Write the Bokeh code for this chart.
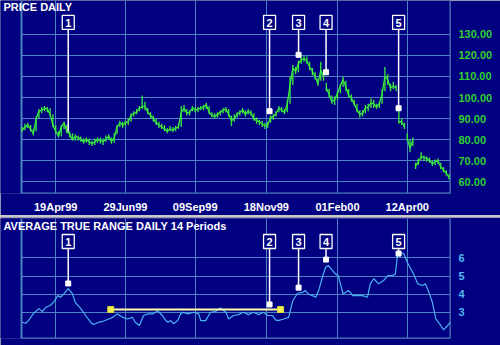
from bokeh.plotting import figure
from bokeh.models import FixedTicker, Range1d, Label, NumeralTickFormatter
from bokeh.layouts import column
from bokeh.embed import file_html
from bokeh.resources import INLINE
from bokeh.core.properties import value

# ---------------- data ----------------
price_day = list(range(0, 307, 2))
price_close = [
    84.5, 86, 87, 85, 83, 90, 93.5, 94, 95, 94.5,
    92, 87, 84, 81.6, 86, 88, 84, 82.5, 80, 81.5,
    81, 80, 79, 80, 79, 78, 79, 80, 79.5, 79,
    80.5, 81.5, 79, 81, 86, 88, 87, 88, 88.5, 91.5,
    92.5, 93, 95, 95.5, 96, 93, 91.5, 90, 88, 87,
    86, 85, 84, 85, 84.5, 85.5, 86, 93, 95, 92.5,
    93, 95, 94, 94.5, 95, 95.5, 96.5, 93, 91.5, 91,
    92, 93, 94, 94.5, 92, 89, 90, 92, 93, 94,
    92, 93.5, 92.5, 90, 89, 88.5, 87.5, 86.5, 87, 90.5,
    91, 92.5, 95, 94, 93, 97, 106, 114, 112.5, 116,
    118, 118.5, 117.5, 114.5, 112.5, 110, 106.5, 113, 110, 104.5,
    101.5, 98, 99, 102, 105.5, 108.5, 105, 101, 99.5, 97,
    94, 92, 92.5, 95, 95.5, 97.5, 97, 95.5, 97, 102,
    110, 108.5, 104.5, 105.5, 104.5, 88.5, 88.5, 86, 80.5, 76,
    79.5, 67.5, 69.5, 72, 71.5, 71, 70, 68.5, 69.5, 70,
    67, 65.5, 64, 62,
]
price_high = [
    86, 87.5, 88, 87, 85, 91, 94.5, 95.5, 96, 95.5,
    95, 92, 87, 84, 87, 88.5, 87, 84, 83, 82.5,
    82, 81.5, 80.5, 81, 80.5, 79.5, 80.5, 81, 81, 80.5,
    82, 82.5, 81, 83, 87, 89, 88.5, 89, 90, 92.5,
    93.5, 94.5, 96, 101, 98, 95, 93, 91.5, 90, 88.5,
    87.5, 87, 85.5, 86.5, 86, 86.5, 87.5, 96, 96.5, 94.5,
    94, 96, 95.5, 95.5, 96, 96.5, 97.5, 96, 93, 92.5,
    93, 94, 95, 95.5, 94.5, 91.5, 92, 93, 94, 95,
    94, 94.5, 94, 92.5, 90.5, 89.5, 89, 88, 88.5, 91.5,
    92, 93.5, 96, 95.5, 94.5, 98.5, 110, 115.5, 114.5, 117.5,
    119.5, 120, 119.5, 117, 114, 112, 109, 117, 112.5, 107,
    104, 101, 100.5, 103, 106.5, 110, 108, 104, 101.5, 99,
    97, 94, 94, 96.5, 97, 99.5, 99, 97, 98, 104,
    114.5, 111, 106.5, 107.5, 106, 95, 90, 88, 83, 80,
    81, 69, 71, 74, 72.5, 72, 71.5, 70, 70.5, 71,
    69, 67, 65.5, 63.5,
]
price_low = [
    83.5, 84.5, 85.5, 84, 82, 84, 90, 92.5, 93.5, 93,
    91, 86, 83, 81, 81.5, 85, 83, 81, 79.5, 79.5,
    79.5, 79, 78, 78.5, 77.5, 77, 77.5, 78.5, 78, 77.5,
    79, 80, 78, 78.5, 82.5, 86, 85.5, 86.5, 87, 88.5,
    91, 92, 93.5, 94.5, 94, 92, 90, 88.5, 87, 85.5,
    85, 84, 83, 84, 83.5, 84, 85, 86, 93, 91.5,
    91.5, 93.5, 93, 93, 94, 94, 94.5, 92, 90.5, 90,
    90.5, 91.5, 92.5, 93, 91, 86.5, 88.5, 90.5, 91.5, 92.5,
    91, 92, 91.5, 89, 87.5, 87, 86, 85, 85.5, 88,
    89.5, 91, 93, 93, 92, 93, 97, 106, 111, 112,
    116, 117, 116, 113, 110.5, 108.5, 105.5, 108, 108, 103,
    100, 97, 96.5, 99, 102, 105, 103, 100, 98, 96,
    93, 90.5, 91, 92.5, 93.5, 95, 95, 94.5, 95, 97,
    103, 106, 103, 104, 103, 87.5, 87, 85, 79.5, 74,
    77, 66, 68, 70.5, 70, 69.5, 69, 67.5, 68, 68.5,
    66, 64.5, 63, 61,
]

atr_day = [
    0, 2.5, 4.5, 8, 12, 14.5, 17, 20, 22.5, 25.5, 27.5, 30, 33, 36, 38, 42, 45.5, 49,
    51, 55, 58, 62, 65, 68, 72, 75.5, 79, 81, 84, 87, 90.5, 94, 97, 100.5, 103, 104.5,
    106.5, 108.5, 111.5, 113.5, 115.5, 118.5, 123, 126.5, 128, 131.5, 135, 138.5, 142,
    146, 148, 151.5, 155, 158.5, 162, 166, 169.5, 173, 176, 179.5, 181.5, 183.5, 187.5,
    191, 194, 197.5, 201, 203, 205, 208, 210.5, 212.5, 215.5, 217.5, 219.5, 222.5, 224.5,
    226.5, 228, 230, 232, 234, 237, 240.5, 244, 247.5, 249.5, 252, 255.5, 259, 262,
    265.5, 267.5, 269, 271, 273.5, 276, 278.5, 280.5, 283.5, 287, 289, 291.5, 294, 296.5,
    300, 302, 305, 307,
]
atr_value = [
    2.45, 2.39, 2.54, 2.93, 3.2, 3.04, 3.28, 3.37, 3.55, 3.92, 3.83, 4.03, 4.31, 4.03, 3.55, 3.2, 2.82, 2.45,
    2.32, 2.45, 2.5, 2.63, 2.72, 2.91, 2.72, 2.63, 2.72, 2.45, 2.27, 2.82, 2.91, 2.91, 3.09, 2.82, 2.54, 2.45,
    2.54, 2.36, 2.54, 2.91, 3.0, 2.91, 3.0, 2.91, 2.54, 2.54, 3.0, 3.04, 3.24,
    3.0, 2.63, 2.82, 2.87, 3.0, 2.87, 3.0, 2.87, 3.0, 2.82, 2.82, 2.58, 2.54, 2.63,
    2.72, 3.65, 4.05, 4.1, 4.2, 4.01, 3.92, 3.83, 4.2, 5.03, 5.49, 5.58, 5.3, 5.12,
    5.03, 4.6, 4.01, 4.1, 4.2, 3.92, 3.92, 3.92, 3.83, 4.57, 4.85, 4.57, 4.75, 5.03,
    5.03, 5.12, 6.13, 6.31, 6.23, 5.76, 5.4, 5.12, 4.57, 4.48, 4.57, 4.1, 3.55, 2.63,
    2.27, 2.03, 2.27, 2.45,
]

date_tick_days = [24, 74, 124, 175, 226, 276]
date_tick_labels = ["19Apr99", "29Jun99", "09Sep99", "18Nov99", "01Feb00", "12Apr00"]
price_ticks = [60, 70, 80, 90, 100, 110, 120, 130]
atr_ticks = [3, 4, 5, 6]

signal_ids = ["1", "2", "3", "4", "5"]
signal_days = [33, 177.3, 198.1, 217.8, 269.8]
signal_price = [83.9, 93.5, 120.3, 112.0, 94.9]
signal_atr = [4.59, 3.43, 4.36, 5.91, 6.24]

flat_atr_days = [63.5, 185.2]
flat_atr_level = [3.15, 3.15]

# ---------------- style ----------------
NAVY = "#000080"
GRID = "#4a82c4"
GREEN = "#3cec3c"
GREEN_LBL = "#30d030"
CYAN = "#4ab2f2"
CYAN_LBL = "#52b8f0"
FONT = "Liberation Sans"

DATA_START, DATA_END = -0.5, 307      # plot-area edges (left edge 21 px from window)
LEFT_PAD = -15.55                     # range start so the frame reaches the window edge


def base_fig(height, y_rng, top, bottom):
    p = figure(width=500, height=height, x_range=Range1d(LEFT_PAD, DATA_END),
               y_range=Range1d(*y_rng), output_backend="svg", toolbar_location=None,
               y_axis_location="right", min_border_left=0, min_border_right=50,
               min_border_top=top, min_border_bottom=bottom, background_fill_color=NAVY,
               border_fill_color=NAVY, outline_line_color=None)
    p.xgrid.grid_line_color = GRID
    p.ygrid.grid_line_color = GRID
    p.xaxis.ticker = FixedTicker(ticks=date_tick_days)
    p.xgrid.ticker = FixedTicker(ticks=date_tick_days)
    for ax in (p.xaxis, p.yaxis):
        ax.axis_line_color = None
        ax.major_tick_line_color = None
        ax.minor_tick_line_color = None
        ax.major_label_text_font = FONT
        ax.major_label_text_font_style = "bold"
        ax.major_label_text_font_size = "11px"
    # blank strip left of the plot area, then the plot-area border
    y0, y1 = y_rng
    p.quad(left=LEFT_PAD, right=DATA_START, bottom=y0, top=y1, fill_color=NAVY,
           line_color=None)
    p.segment(x0=[DATA_START, DATA_START, DATA_END], y0=[y0, y0, y0],
              x1=[DATA_START, DATA_END, DATA_END], y1=[y1, y0, y1],
              line_color=GRID, line_width=2)
    return p


def add_signals(p, vals, box_y, box_bottom, squares_from):
    p.segment(x0=signal_days, y0=[box_bottom] * 5, x1=signal_days, y1=vals,
              line_color="white", line_width=1.5)
    p.scatter(x=signal_days[squares_from:], y=vals[squares_from:], marker="square", size=5,
              fill_color="white", line_color="white")
    p.rect(x=signal_days, y=[box_y] * 5, width=12, height=14, width_units="screen",
           height_units="screen", fill_color=NAVY, line_color="white", line_width=1.3)
    p.text(x=signal_days, y=[box_y] * 5, text=signal_ids, text_align="center",
           text_baseline="middle", text_color="white", text_font=value(FONT),
           text_font_style="bold", text_font_size="11px", y_offset=1)


# ---------------- price panel ----------------
p1 = base_fig(215, (54.4, 146.1), 0, 16)
p1.xaxis.major_label_overrides = {d: s for d, s in zip(date_tick_days, date_tick_labels)}
p1.xaxis.major_label_text_color = "white"
p1.xaxis.major_label_standoff = 1
p1.yaxis.ticker = FixedTicker(ticks=price_ticks)
p1.ygrid.ticker = FixedTicker(ticks=price_ticks)
p1.yaxis.formatter = NumeralTickFormatter(format="0.00")
p1.yaxis.major_label_text_color = GREEN_LBL
p1.yaxis.major_label_standoff = 2

# daily range bars
p1.segment(x0=price_day, y0=price_low, x1=price_day, y1=price_high,
           line_color=GREEN, line_width=1.3)
# close-to-close joins, skipped where the price gapped (ranges do not overlap)
jx0, jy0, jx1, jy1 = [], [], [], []
for i in range(1, len(price_day)):
    if price_low[i] <= price_high[i - 1] and price_high[i] >= price_low[i - 1]:
        jx0.append(price_day[i - 1]); jy0.append(price_close[i - 1])
        jx1.append(price_day[i]); jy1.append(price_close[i])
p1.segment(x0=jx0, y0=jy0, x1=jx1, y1=jy1, line_color=GREEN, line_width=1.3)

add_signals(p1, signal_price, 135.7, 132.7, 1)
p1.add_layout(Label(x=DATA_START, y=142.9, x_offset=-18, text="PRICE DAILY",
                    text_color="white", text_font=FONT, text_font_style="bold",
                    text_font_size="11px", text_baseline="middle"))

# ---------------- ATR panel ----------------
p2 = base_fig(128, (1.55, 8.18), 1, 7)
p2.xaxis.visible = False
p2.yaxis.ticker = FixedTicker(ticks=atr_ticks)
p2.ygrid.ticker = FixedTicker(ticks=atr_ticks)
p2.yaxis.major_label_text_color = CYAN_LBL
p2.yaxis.major_label_standoff = 2

p2.line(atr_day, atr_value, line_color=CYAN, line_width=1.2)
p2.line(flat_atr_days, flat_atr_level, line_color="#ffffa8", line_width=2)
p2.scatter(flat_atr_days, flat_atr_level, marker="square", size=6,
           fill_color="#f0f050", line_color="#d8d840")
add_signals(p2, signal_atr, 6.91, 6.55, 0)
p2.add_layout(Label(x=DATA_START, y=7.79, x_offset=-18,
                    text="AVERAGE TRUE RANGE DAILY 14 Periods",
                    text_color="white", text_font=FONT, text_font_style="bold",
                    text_font_size="11px", text_baseline="middle"))

layout = column(p1, p2, spacing=2, styles={"background-color": "#c8c8c8"})

with open("out.html", "w") as f:
    f.write(file_html(layout, INLINE))
